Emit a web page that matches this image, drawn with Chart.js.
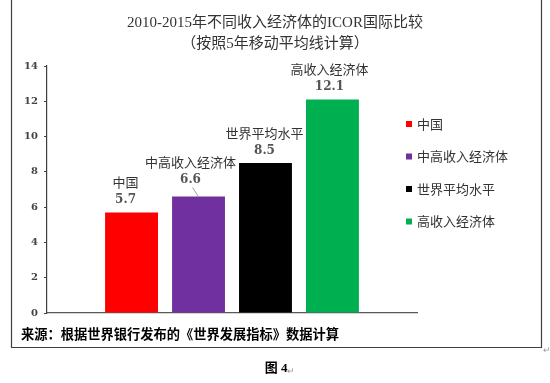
<!DOCTYPE html>
<html>
<head>
<meta charset="utf-8">
<script src="https://cdn.jsdelivr.net/npm/chart.js@4/dist/chart.umd.min.js"></script>
<style>
html,body{margin:0;padding:0;background:#fff;}
#wrap{width:550px;height:383px;position:relative;}
</style>
</head>
<body>
<div id="wrap"><canvas id="c" width="550" height="383"></canvas></div>
<script>
const titleLines = ['2010-2015年不同收入经济体的ICOR国际比较', '（按照5年移动平均线计算）'];
const seriesNames = ['中国', '中高收入经济体', '世界平均水平', '高收入经济体'];
const seriesValues = [5.7, 6.6, 8.5, 12.1];
const seriesColors = ['#FF0000', '#7030A0', '#000000', '#00B050'];
const yTicks = [0, 2, 4, 6, 8, 10, 12, 14];
const sourceText = '来源：根据世界银行发布的《世界发展指标》数据计算';
const figureText = '图 4';

const SERIF = "'Liberation Serif', 'Noto Sans CJK SC', serif";
const DSERIF = "'DejaVu Serif', 'Noto Sans CJK SC', serif";
const SANS = "'Noto Sans CJK SC', 'Noto Sans', sans-serif";

const datasets = seriesNames.map((n, i) => ({
  label: n,
  data: [seriesValues[i]],
  backgroundColor: seriesColors[i],
  borderWidth: 0,
  categoryPercentage: 0.724,
  barPercentage: 0.79
}));

const decorPlugin = {
  id: 'decor',
  afterLayout(chart) {
    if (chart.titleBlock) {
      chart.titleBlock.left = 0;
      chart.titleBlock.right = chart.width;
      chart.titleBlock.width = chart.width;
    }
  },
  afterDatasetsDraw(chart) {
    const ctx = chart.ctx;
    const nudge = [-6, -8, -1, -3];
    const lift = [0, 4, 0, 0];
    ctx.save();
    chart.data.datasets.forEach((ds, i) => {
      const el = chart.getDatasetMeta(i).data[0];
      const x = el.x + nudge[i];
      const top = el.y - lift[i];
      ctx.textAlign = 'center';
      ctx.textBaseline = 'middle';
      ctx.fillStyle = '#333333';
      ctx.font = '13px ' + SANS;
      ctx.fillText(ds.label, x, top - 30);
      ctx.font = 'bold 12px ' + DSERIF;
      ctx.fillStyle = '#555555';
      ctx.fillText(ds.data[0].toFixed(1), x, top - 12.5);
      if (lift[i] > 0) {
        ctx.strokeStyle = '#8c8c8c';
        ctx.lineWidth = 0.8;
        ctx.beginPath();
        ctx.moveTo(x + 2, top - 5);
        ctx.lineTo(el.x, el.y);
        ctx.stroke();
      }
    });
    const ca = chart.chartArea;
    ctx.textAlign = 'left';
    ctx.textBaseline = 'middle';
    ctx.font = '13px ' + SANS;
    chart.data.datasets.forEach((ds, i) => {
      const cy = ca.top + 58 + i * 32.5;
      const mx = ca.right - 11;
      ctx.fillStyle = ds.backgroundColor;
      ctx.fillRect(mx, cy - 3, 6, 6);
      ctx.fillStyle = '#333333';
      ctx.fillText(ds.label, mx + 11, cy);
    });
    ctx.strokeStyle = '#404040';
    ctx.lineWidth = 1.2;
    ctx.beginPath();
    ctx.moveTo(11.5, 0);
    ctx.lineTo(11.5, 347.5);
    ctx.lineTo(541.5, 347.5);
    ctx.lineTo(541.5, 0);
    ctx.stroke();
    ctx.fillStyle = '#000000';
    ctx.font = 'bold 13.25px ' + SANS;
    ctx.textBaseline = 'middle';
    ctx.fillText(sourceText, 21, 334);
    ctx.font = 'bold 13px ' + SERIF;
    ctx.textAlign = 'center';
    ctx.fillText(figureText, 276, 369);
    ctx.fillStyle = '#9a9a9a';
    ctx.font = '9px ' + SANS;
    ctx.textAlign = 'left';
    ctx.fillText('↵', 287, 371);
    ctx.fillText('↵', 543, 350);
    ctx.restore();
  }
};

new Chart(document.getElementById('c'), {
  type: 'bar',
  data: { labels: [''], datasets },
  options: {
    responsive: false,
    animation: false,
    devicePixelRatio: 1,
    layout: { padding: { left: 0, right: 133, top: 0, bottom: 70 } },
    plugins: {
      legend: { display: false },
      tooltip: { enabled: false },
      title: {
        display: true,
        text: titleLines,
        color: '#333333',
        font: { family: SERIF, size: 15, weight: 'normal', lineHeight: 1.4 },
        padding: { top: 12.5, bottom: 11.5 }
      }
    },
    scales: {
      x: {
        grid: { display: false },
        ticks: { display: false },
        border: { display: true, color: '#595959', width: 1.2 },
        afterFit(s) { s.height = 0; }
      },
      y: {
        min: yTicks[0],
        max: yTicks[yTicks.length - 1],
        afterBuildTicks(s) { s.ticks = yTicks.map(v => ({ value: v })); },
        grid: { drawOnChartArea: false, drawTicks: true, tickLength: 3, color: '#404040', tickWidth: 1 },
        border: { display: true, color: '#404040', width: 1.2 },
        ticks: {
          padding: 6,
          color: '#444444',
          font: { family: DSERIF, size: 10, weight: 'bold' }
        },
        afterFit(s) { s.width = 47; }
      }
    }
  },
  plugins: [decorPlugin]
});
</script>
</body>
</html>
